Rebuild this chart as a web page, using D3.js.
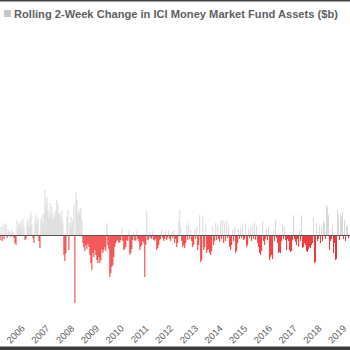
<!DOCTYPE html>
<html>
<head>
<meta charset="utf-8">
<script src="https://cdn.jsdelivr.net/npm/d3@7"></script>
<style>
  html, body { margin: 0; padding: 0; background: #fff; }
  svg { display: block; }
</style>
</head>
<body>
<svg id="chart" width="350" height="350"></svg>
<script>
// ---- data ----
const chartTitle = "Rolling 2-Week Change in ICI Money Market Fund Assets ($b)";
const yearLabels = ["2006","2007","2008","2009","2010","2011","2012","2013","2014","2015","2016","2017","2018","2019"];
const seriesStart = "2005-05-10";   // first observation
const stepHours = 354;              // spacing between observations
const changes = [
  -10,16,-12,24,-8,20,22,-6,12,6,
  8,-4,10,6,-6,-16,-20,30,16,24,
  20,28,12,32,18,-10,-8,24,30,16,
  36,46,20,-6,-16,28,40,24,34,-12,
  -26,32,40,24,44,90,60,76,50,36,
  64,40,56,30,44,36,50,70,60,40,
  44,30,50,24,-40,-52,-36,36,50,-30,
  24,36,16,30,60,-136,86,70,40,50,
  44,54,30,-16,-24,-32,-20,-28,-18,-24,
  -40,-56,-70,-36,-44,-30,-40,-50,-56,-44,
  -56,-50,-28,-36,-30,-24,-32,24,-20,-28,
  -84,-76,-64,-60,-44,-24,-16,-12,-10,-16,
  -14,-10,14,-12,-30,-28,-24,-10,-12,8,
  -40,-36,-28,-10,6,-12,-10,8,-8,-12,
  -30,-24,-20,-12,-16,-84,-20,50,-10,-8,
  6,-6,-8,8,-10,-12,-8,-30,-26,-20,
  -10,-8,10,-6,-12,-8,8,-10,-6,10,
  -8,-12,6,-6,10,-16,-8,-24,-16,26,
  50,16,-12,-24,-20,-26,-16,20,-10,24,
  -8,10,-12,-24,-20,12,-8,16,-30,-20,
  40,-54,-50,36,-30,-24,20,-36,-30,-28,
  -36,-40,-32,18,-20,-12,24,-10,20,-8,
  -14,28,-8,30,-16,24,-12,30,-6,20,
  -24,-30,-20,10,-12,16,-36,-32,-16,12,
  -8,14,-6,20,-10,-8,24,-24,-20,12,
  -6,16,-12,20,-8,24,-10,18,-16,-24,
  -36,-40,-32,28,-12,-20,-8,12,-10,16,
  -50,-44,-40,-48,10,-12,30,-6,-16,-36,
  -34,-36,-12,20,-8,16,-10,-30,-8,-12,
  -30,-34,-32,-10,40,-8,-14,-20,-8,-24,
  10,-12,40,-26,-24,-16,-20,-32,-34,-28,
  -24,-26,-20,-16,36,-56,-54,24,-12,-8,
  20,-16,16,-12,28,24,-8,60,56,40,
  -30,-12,-8,20,-36,-16,-50,-48,50,40,
  -10,44,36,48,-8,30,-12,20,16,-6
];

// ---- build ----
const svg = d3.select("#chart");
const W = 350, H = 350;
const parse = d3.utcParse("%Y-%m-%d");
const t0 = parse(seriesStart);
const data = changes.map((v, i) => ({ date: d3.utcHour.offset(t0, i * stepHours), value: v }));

const x = d3.scaleUtc()
  .domain([new Date(Date.UTC(2006,0,1)), new Date(Date.UTC(2019,0,1))])
  .range([16, 337.5]);
const y = d3.scaleLinear().domain([-200, 200]).range([335, 135]);

const barW = Math.max(0.6, (x(d3.utcHour.offset(t0, stepHours)) - x(t0)) * 0.8);

// bars
svg.append("g").selectAll("rect").data(data).join("rect")
  .attr("x", d => x(d.date) - barW / 2)
  .attr("width", barW)
  .attr("y", d => y(Math.max(0, d.value)))
  .attr("height", d => Math.abs(y(d.value) - y(0)))
  .attr("fill", d => d.value >= 0 ? "#cfcfcf" : "#f00000");

// zero line
svg.append("line")
  .attr("x1", 0).attr("x2", W)
  .attr("y1", y(0) + 0.5).attr("y2", y(0) + 0.5)
  .attr("stroke", "#555").attr("stroke-width", 1);

// x axis labels
const ticks = yearLabels.map(s => new Date(Date.UTC(+s, 0, 1)));
svg.append("g").selectAll("text").data(ticks).join("text")
  .attr("transform", d => `translate(${x(d) + 9.5},${329}) rotate(-45)`)
  .attr("text-anchor", "end")
  .attr("font-family", "'Liberation Sans', Arial, sans-serif")
  .attr("font-size", "9.5px")
  .attr("fill", "#606060")
  .text(d => d3.utcFormat("%Y")(d));

// title with legend square
svg.append("rect").attr("x", 4).attr("y", 10).attr("width", 7).attr("height", 7).attr("fill", "#c8c8c8");
const title = svg.append("text")
  .attr("x", 14).attr("y", 18)
  .attr("font-family", "'Liberation Sans', Arial, sans-serif")
  .attr("font-weight", "bold")
  .attr("font-size", "12px")
  .attr("fill", "#606060")
  .text(chartTitle);
const tw = title.node().getComputedTextLength();
title.attr("font-size", (12 * 324 / tw).toFixed(2) + "px");

// frame bands
svg.append("rect").attr("x", 0).attr("y", 0).attr("width", W).attr("height", 1.5).attr("fill", "#444");
svg.append("rect").attr("x", 0).attr("y", 346.5).attr("width", W).attr("height", 3.5).attr("fill", "#3a3a3a");
</script>
</body>
</html>
